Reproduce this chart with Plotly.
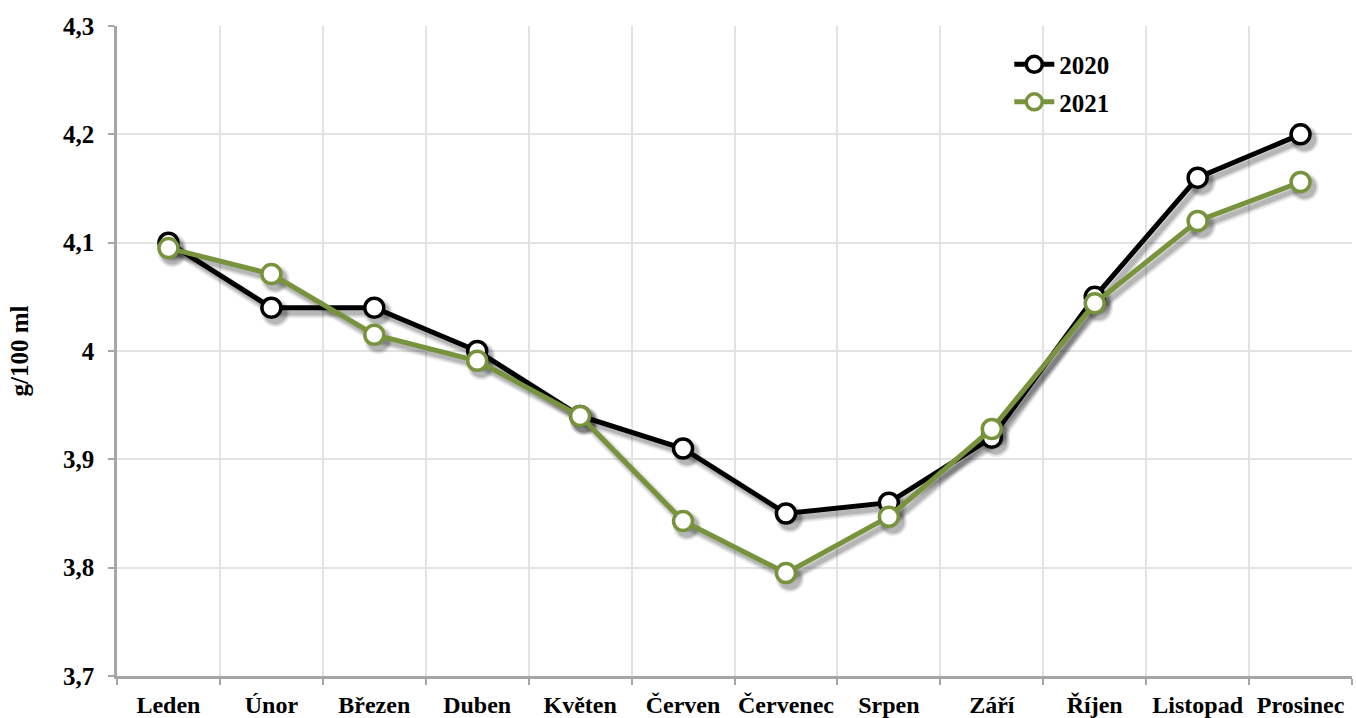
import plotly.graph_objects as go

months = ["Leden", "Únor", "Březen", "Duben", "Květen", "Červen", "Červenec",
          "Srpen", "Září", "Říjen", "Listopad", "Prosinec"]
v2020 = [4.10, 4.04, 4.04, 4.00, 3.94, 3.91, 3.85, 3.86, 3.92, 4.05, 4.16, 4.20]
v2021 = [4.095, 4.071, 4.015, 3.991, 3.940, 3.843, 3.795, 3.847, 3.928, 4.044, 4.120, 4.156]
ytick_vals = [3.7, 3.8, 3.9, 4.0, 4.1, 4.2, 4.3]
ytick_text = ["3,7", "3,8", "3,9", "4", "4,1", "4,2", "4,3"]

FONT = "Liberation Serif, Times New Roman, serif"
BLACK = "#000000"
GREEN = "#77933c"

W, H = 1356, 718
ML, MR, MT, MB = 117, 4, 26, 42
pw = W - ML - MR
ph = H - MT - MB
yr = [3.7, 4.3]
xr = [-0.5, 11.5]
sx = 4 * (xr[1] - xr[0]) / pw
sy = 5 * (yr[1] - yr[0]) / ph

fig = go.Figure()

# soft shadows on the (hidden, slightly shifted) base axes
for vals in (v2020, v2021):
    for w, a in ((11, 0.07), (8, 0.10), (5, 0.14)):
        fig.add_trace(go.Scatter(
            x=months, y=vals, mode="lines+markers", xaxis="x", yaxis="y",
            line=dict(color=f"rgba(0,0,0,{a})", width=w),
            marker=dict(size=18 + w, color=f"rgba(0,0,0,{a})", line=dict(width=0)),
            showlegend=False, hoverinfo="skip"))

fig.add_trace(go.Scatter(
    x=months, y=v2020, name="2020", mode="lines+markers", xaxis="x2", yaxis="y2",
    line=dict(color=BLACK, width=5),
    marker=dict(size=19, color="white", line=dict(color=BLACK, width=3.5)),
    legendgroup="a"))
fig.add_trace(go.Scatter(
    x=months, y=v2021, name="2021", mode="lines+markers", xaxis="x2", yaxis="y2",
    line=dict(color=GREEN, width=5),
    marker=dict(size=19, color="white", line=dict(color=GREEN, width=3.5)),
    legendgroup="b"))

fig.update_layout(
    width=W, height=H,
    margin=dict(l=ML, r=MR, t=MT, b=MB, autoexpand=False),
    paper_bgcolor="white", plot_bgcolor="white",
    font=dict(family=FONT, color="black", size=18),
    xaxis=dict(type="category", categoryorder="array", categoryarray=months,
               range=[xr[0] - sx, xr[1] - sx], visible=False, fixedrange=True),
    yaxis=dict(range=[yr[0] + sy, yr[1] + sy], visible=False, fixedrange=True),
    xaxis2=dict(type="category", categoryorder="array", categoryarray=months,
                overlaying="x", range=xr, tickson="boundaries", showgrid=True,
                gridcolor="#e3e3e3", gridwidth=1.5, showline=True,
                linecolor="#a6a6a6", linewidth=2.5, tickangle=0,
                ticks="outside", ticklen=6, tickcolor="#a6a6a6", tickwidth=2,
                ticklabelstandoff=5,
                tickfont=dict(family=FONT, size=24, color="black", weight="bold"),
                zeroline=False, fixedrange=True),
    yaxis2=dict(overlaying="y", range=yr, tickvals=ytick_vals, ticktext=ytick_text,
                showgrid=True, gridcolor="#e3e3e3", gridwidth=1.5,
                showline=True, linecolor="#a6a6a6", linewidth=2.5,
                ticks="outside", ticklen=6, tickcolor="#a6a6a6", tickwidth=2,
                ticklabelstandoff=9,
                tickfont=dict(family=FONT, size=25, color="black", weight="bold"),
                title=dict(text="g/100 ml", standoff=28,
                           font=dict(family=FONT, size=25, color="black", weight="bold")),
                zeroline=False, fixedrange=True),
    legend=dict(x=0.7225, y=0.976, xanchor="left", yanchor="top",
                bgcolor="rgba(0,0,0,0)", tracegroupgap=2, traceorder="grouped",
                font=dict(family=FONT, size=25, color="black", weight="bold"),
                itemwidth=40),
    showlegend=True,
)

fig.write_html("out.html", config={"displayModeBar": False},
               post_script="document.body.style.margin='0';")
